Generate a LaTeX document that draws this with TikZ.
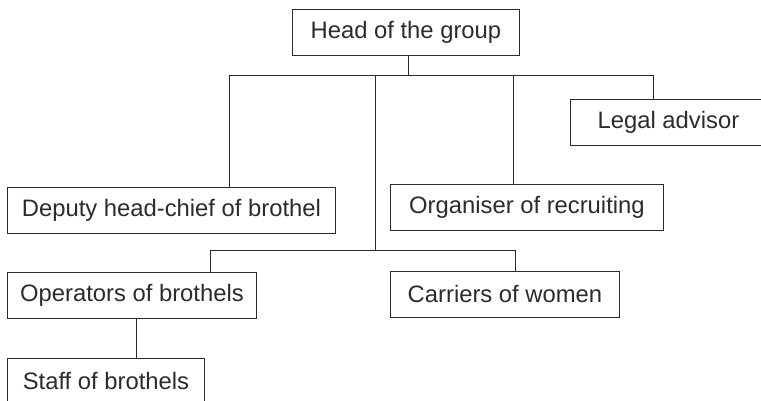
\documentclass[tikz,border=0pt]{standalone}
\usepackage{fontspec}
\setmainfont{Liberation Sans}
\usepackage{tikz}
\usetikzlibrary{calc,positioning}
\usepackage{xcolor}
\definecolor{ink}{HTML}{2B2B2B}

\begin{document}
\begin{tikzpicture}[x=0.5pt, y=-0.5pt,
    rolebox/.style={draw=ink, line width=0.45pt, text=ink, anchor=north west,
                    minimum height=23pt, inner xsep=0pt,
                    font=\fontsize{11.9}{14}\selectfont},
    link/.style={draw=ink, line width=0.45pt}]
\clip (0,0) rectangle (761,401);
\useasboundingbox (0,0) rectangle (761,401);
%
\node[rolebox, minimum width=113.5pt] (head)      at (292,9)   {Head of the group};
\node[rolebox, minimum width=164pt]   (deputy)    at (7,187)   {Deputy head-chief of brothel};
\node[rolebox, minimum width=136.5pt] (organiser) at (390,184) {Organiser of recruiting};
\node[rolebox, minimum width=98pt]    (legal)     at (570,99)  {Legal advisor};
\node[rolebox, minimum width=124.5pt] (operators) at (7,272)   {Operators of brothels};
\node[rolebox, minimum width=114.5pt] (carriers)  at (390,271) {Carriers of women};
\node[rolebox, minimum width=98.5pt]  (staff)     at (7,358)   {Staff of brothels};
%
\coordinate (bus)    at (408,75);
\coordinate (busl)   at (229,75);
\coordinate (busm)   at (375,75);
\coordinate (buso)   at (513,75);
\coordinate (busr)   at (653,75);
\coordinate (low)    at (375,250);
\coordinate (lowl)   at (210,250);
\coordinate (lowr)   at (515,250);
\coordinate (stem)   at (136,330);
%
\draw[link] (bus |- head.south) -- (bus);
\draw[link] (busl) -- (busr);
\draw[link] (busl) -- (busl |- deputy.north);
\draw[link] (buso) -- (buso |- organiser.north);
\draw[link] (busr) -- (busr |- legal.north);
\draw[link] (busm) -- (low);
\draw[link] (lowl) -- (lowr);
\draw[link] (lowl) -- (lowl |- operators.north);
\draw[link] (lowr) -- (lowr |- carriers.north);
\draw[link] (stem |- operators.south) -- (stem |- staff.north);
%
\end{tikzpicture}
\end{document}
